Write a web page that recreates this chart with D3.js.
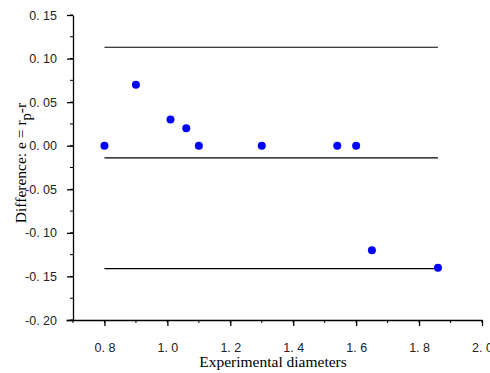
<!DOCTYPE html>
<html><head><meta charset="utf-8">
<script src="https://cdn.jsdelivr.net/npm/d3@7"></script>
<style>body{margin:0;background:#fff}svg{display:block}</style>
</head><body><svg id="c" width="490" height="373"></svg>
<script>
const xVals = [0.8, 0.9, 1.01, 1.06, 1.1, 1.3, 1.54, 1.6, 1.65, 1.86];
const yVals = [0.00, 0.07, 0.03, 0.02, 0.00, 0.00, 0.00, 0.00, -0.12, -0.14];
const refLines = [0.113, -0.014, -0.141];
const refRange = [0.8, 1.86];
const xTicks = [0.8, 1.0, 1.2, 1.4, 1.6, 1.8, 2.0];
const yTicks = [0.15, 0.10, 0.05, 0.00, -0.05, -0.10, -0.15, -0.20];

const svg = d3.select("#c");
const x = d3.scaleLinear().domain([0.7, 2.0]).range([73, 482]);
const y = d3.scaleLinear().domain([-0.20, 0.15]).range([320, 15]);

// minor ticks
const xMinor = d3.range(0.7, 2.001, 0.1).map(v => +v.toFixed(2));
const yMinor = d3.range(-0.20, 0.1501, 0.025).map(v => +v.toFixed(3));
const g = svg.append("g");
g.selectAll(".xm").data(xMinor).join("line")
  .attr("x1", d => x(d)).attr("x2", d => x(d)).attr("y1", 320).attr("y2", 323)
  .attr("stroke", "#000").attr("stroke-width", 1);
g.selectAll(".ym").data(yMinor).join("line")
  .attr("x1", 70).attr("x2", 73).attr("y1", d => y(d)).attr("y2", d => y(d))
  .attr("stroke", "#000").attr("stroke-width", 1);

const xAxis = d3.axisBottom(x).tickValues(xTicks).tickSize(6).tickPadding(17)
  .tickFormat(d => d3.format(".1f")(d).replace(".", ". "));
const yAxis = d3.axisLeft(y).tickValues(yTicks).tickSize(6).tickPadding(10)
  .tickFormat(d => d3.format(".2f")(d).replace("−","-").replace(".", ". "));

const gx = svg.append("g").attr("transform", "translate(0,320)").call(xAxis);
const gy = svg.append("g").attr("transform", "translate(73,0)").call(yAxis);
[gx, gy].forEach(a => {
  a.select(".domain").attr("stroke", "#000").attr("stroke-width", 1.3);
  a.selectAll(".tick line").attr("stroke", "#000").attr("stroke-width", 1.3);
  a.selectAll("text").attr("font-family", "Liberation Sans, Arial, sans-serif")
    .attr("font-size", 12.5).attr("fill", "#222");
});
gx.select(".domain").attr("d", "M66.5,0.5H482.5");
gy.select(".domain").attr("d", "M0.5,15.5V320.5");

// reference lines
svg.selectAll(".ref").data(refLines).join("line")
  .attr("x1", x(refRange[0])).attr("x2", x(refRange[1]))
  .attr("y1", d => y(d)).attr("y2", d => y(d))
  .attr("stroke", "#000").attr("stroke-width", 1.2);

// points
svg.selectAll(".pt").data(xVals.map((v, i) => [v, yVals[i]])).join("circle")
  .attr("cx", d => x(d[0])).attr("cy", d => y(d[1])).attr("r", 4)
  .attr("fill", "#0000ff");

// axis labels
svg.append("text").attr("x", 273).attr("y", 367).attr("text-anchor", "middle")
  .attr("font-family", "Liberation Serif, Times New Roman, serif").attr("font-size", 15.5)
  .text("Experimental diameters");
const yl = svg.append("text").attr("transform", "translate(26,163) rotate(-90)")
  .attr("text-anchor", "middle")
  .attr("font-family", "Liberation Serif, Times New Roman, serif").attr("font-size", 15.5);
yl.append("tspan").text("Difference: e = r");
yl.append("tspan").attr("dy", 5).attr("font-size", 14.5).text("p");
yl.append("tspan").attr("dy", -5).text("-r");
</script></body></html>
